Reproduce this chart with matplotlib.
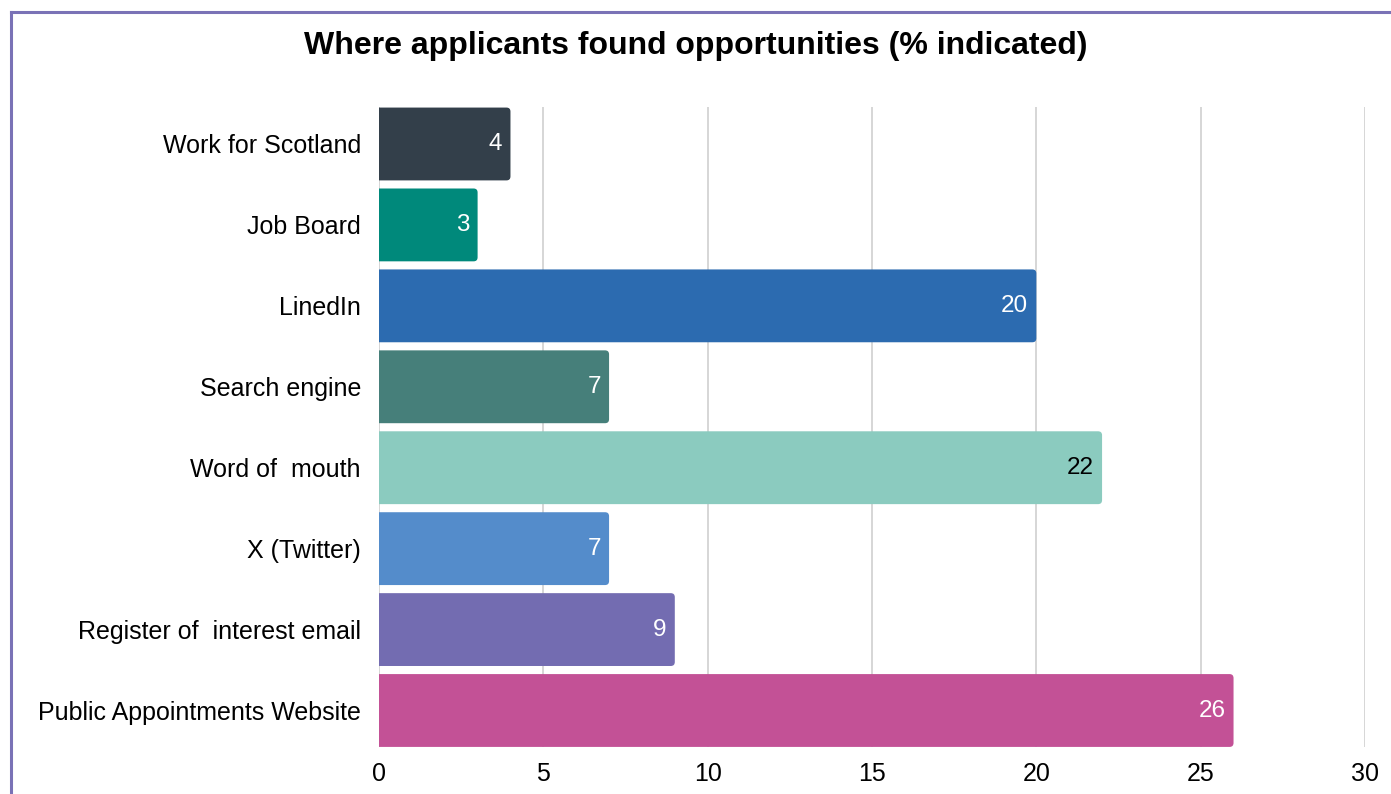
import matplotlib
matplotlib.use("Agg")
import matplotlib.pyplot as plt
from matplotlib.patches import FancyBboxPatch
from matplotlib.lines import Line2D

# data
categories = ["Work for Scotland", "Job Board", "LinedIn", "Search engine",
              "Word of  mouth", "X (Twitter)", "Register of  interest email",
              "Public Appointments Website"]
values = [4, 3, 20, 7, 22, 7, 9, 26]
bar_colors = ["#333f4a", "#00897b", "#2c6bb0", "#467f7a",
              "#8bcbbf", "#548ccb", "#736cb1", "#c35196"]
label_colors = ["white", "white", "white", "white",
                "black", "white", "white", "white"]
x_ticks = [0, 5, 10, 15, 20, 25, 30]

plt.rcParams['font.family'] = ['Liberation Sans', 'DejaVu Sans']

W, H = 1391, 794
fig = plt.figure(figsize=(W / 100, H / 100), dpi=100)
left, right, bottom, top = 379 / W, 1365 / W, 1 - 747 / H, 1 - 107 / H
ax = fig.add_axes([left, bottom, right - left, top - bottom])

bar_h = 0.9
ypos = list(range(len(categories)))
bars = ax.barh(ypos, values, height=bar_h, color=bar_colors, zorder=2)

ax.set_xlim(0, 30)
ax.set_ylim(len(categories) - 0.549, -0.457)

# swap each bar for a rounded one (~4px radius); the part left of 0 is
# clipped by the axes so the left corners stay square
px_per_x = (right - left) * W / 30
px_per_y = (top - bottom) * H / (len(categories) - 0.549 + 0.457)
r = 4 / px_per_x
aspect = (4 / px_per_y) / r
for b in bars:
    x0, y0, w, h = b.get_x(), b.get_y(), b.get_width(), b.get_height()
    rp = FancyBboxPatch((x0 - 3 * r, y0), w + 3 * r, h,
                        boxstyle=f"round,pad=0,rounding_size={r}",
                        mutation_aspect=aspect, facecolor=b.get_facecolor(),
                        edgecolor="none", zorder=2)
    ax.add_patch(rp)
    b.set_visible(False)

# value labels inside the bar ends
for i, v in enumerate(values):
    ax.annotate(str(v), xy=(v, i), xytext=(-8, 0), textcoords="offset pixels",
                ha="right", va="center", fontsize=17.5, color=label_colors[i],
                zorder=3)

ax.set_yticks(ypos)
ax.set_yticklabels(categories, fontsize=18)
ax.set_xticks(x_ticks)
ax.set_xticklabels([str(t) for t in x_ticks], fontsize=18)
ax.tick_params(axis="both", length=0)
ax.tick_params(axis="y", pad=13)
ax.tick_params(axis="x", pad=11)
ax.xaxis.grid(True, color="#cccccc", linewidth=1.1, zorder=0)
ax.set_axisbelow(True)
for s in ax.spines.values():
    s.set_visible(False)

fig.text(0.5, 1 - 46 / H, "Where applicants found opportunities (% indicated)",
         ha="center", va="center", fontsize=23, fontweight="bold")

# purple frame (left and top edges visible)
bx, by = 10.5 / W, 1 - 12 / H
fig.add_artist(Line2D([bx, bx], [0, by], color="#7a72b6", linewidth=2.2))
fig.add_artist(Line2D([bx, 1], [by, by], color="#7a72b6", linewidth=2.2))

fig.savefig("out.png", dpi=100)
